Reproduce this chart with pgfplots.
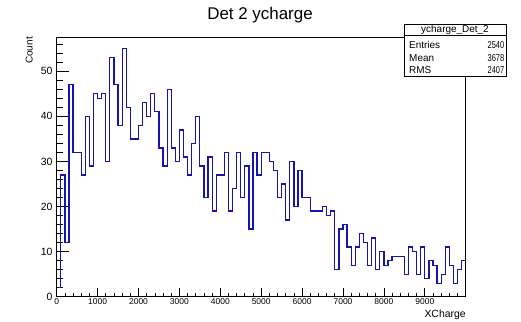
\documentclass[border=0pt]{standalone}
\usepackage{fontspec}
\setmainfont{Liberation Sans}
\usepackage{graphicx}
\usepackage{pgfplots}
\pgfplotsset{compat=1.18}
\definecolor{rootblue}{RGB}{20,20,175}
\begin{document}
\begin{tikzpicture}[x=1bp,y=1bp]
\useasboundingbox (0,0) rectangle (521,321);
\begin{axis}[
  at={(56.7bp,24.3bp)}, anchor=south west,
  scale only axis, width=409bp, height=259.7bp,
  xmin=0, xmax=10000, ymin=0, ymax=57.6,
  axis line style={line width=0.8bp},
  tick align=inside, xtick pos=bottom, ytick pos=left,
  xtick={0,1000,...,9000}, ytick={0,10,...,50},
  minor xtick={200,400,...,9800}, minor ytick={2,4,...,56},
  scaled x ticks=false, scaled y ticks=false,
  tick style={black, line width=0.7bp},
  xtick style={/pgfplots/major tick length=8.5bp, /pgfplots/minor tick length=4bp},
  ytick style={/pgfplots/major tick length=12.3bp, /pgfplots/minor tick length=6.5bp},
  /pgf/number format/assume math mode=true,
  /pgf/number format/1000 sep={},
  xticklabel style={font=\fontsize{8.5}{9}\selectfont, inner sep=0pt, yshift=-1.5bp},
  yticklabel style={font=\fontsize{10.5}{11}\selectfont, inner sep=0pt, xshift=-4bp},
]
\addplot[const plot, rootblue, line width=1.25bp] coordinates {
(0,2) (100,27) (200,12) (300,47) (400,32) (500,32) (600,27) (700,40) (800,29) (900,45)
(1000,44) (1100,45) (1200,30) (1300,53) (1400,47) (1500,38) (1600,55) (1700,42) (1800,35) (1900,35)
(2000,38) (2100,43) (2200,40) (2300,45) (2400,41) (2500,33) (2600,29) (2700,46) (2800,33) (2900,30)
(3000,37) (3100,31) (3200,27) (3300,34) (3400,40) (3500,29) (3600,22) (3700,31) (3800,19) (3900,27)
(4000,27) (4100,32) (4200,19) (4300,24) (4400,32) (4500,22) (4600,29) (4700,15) (4800,32) (4900,27)
(5000,32) (5100,32) (5200,30) (5300,28) (5400,22) (5500,25) (5600,17) (5700,30) (5800,20) (5900,28)
(6000,22) (6100,22) (6200,19) (6300,19) (6400,19) (6500,20) (6600,18) (6700,19) (6800,6) (6900,15)
(7000,16) (7100,11) (7200,7) (7300,11) (7400,14) (7500,12) (7600,7) (7700,13) (7800,6) (7900,10)
(8000,7) (8100,8) (8200,9) (8300,9) (8400,9) (8500,5) (8600,11) (8700,10) (8800,5) (8900,11)
(9000,4) (9100,8) (9200,7) (9300,3) (9400,5) (9500,11) (9600,7) (9700,3) (9800,6) (9900,8)
(10000,8)
};
\end{axis}
% title
\node[font=\fontsize{17}{19}\selectfont, anchor=center] at (260,305.5) {Det 2 ycharge};
% axis titles
\node[font=\fontsize{10.5}{12}\selectfont, anchor=base east, inner sep=0pt] at (466,4) {XCharge};
\node[font=\fontsize{10}{12}\selectfont, rotate=90, anchor=south east, inner sep=0pt] at (33,284) {Count};
% stats box
\filldraw[fill=white, draw=black, line width=0.8bp] (404,245) rectangle (506,297);
\draw[line width=0.8bp] (404,285.5) -- (506,285.5);
\node[font=\fontsize{10}{11}\selectfont, anchor=center, inner sep=0pt] at (455,291) {ycharge\_Det\_2};
\node[font=\fontsize{10}{11}\selectfont, anchor=west, inner sep=0pt] at (409,276) {Entries};
\node[font=\fontsize{10}{11}\selectfont, anchor=east, inner sep=0pt] at (504.5,276) {\scalebox{0.75}[1]{2540}};
\node[font=\fontsize{10}{11}\selectfont, anchor=west, inner sep=0pt] at (409,263) {Mean};
\node[font=\fontsize{10}{11}\selectfont, anchor=east, inner sep=0pt] at (504.5,263) {\scalebox{0.75}[1]{3678}};
\node[font=\fontsize{10}{11}\selectfont, anchor=west, inner sep=0pt] at (409,250.5) {RMS};
\node[font=\fontsize{10}{11}\selectfont, anchor=east, inner sep=0pt] at (504.5,250.5) {\scalebox{0.75}[1]{2407}};
\end{tikzpicture}
\end{document}
